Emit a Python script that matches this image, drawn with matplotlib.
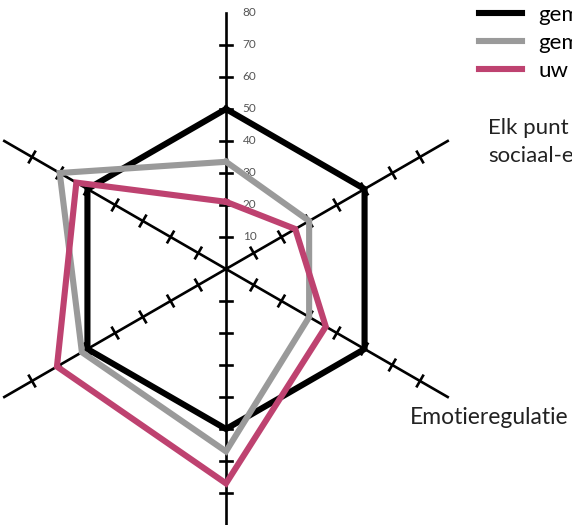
import numpy as np
import matplotlib
matplotlib.use("Agg")
import matplotlib.pyplot as plt

plt.rcParams['font.family'] = ['Lato', 'DejaVu Sans']

# Scores per axis, clockwise starting at the top
axis_angles = [90, 30, -30, -90, -150, 150]
black_vals = [50, 50, 50, 50, 50, 50]
gray_vals = [33.5, 30, 30, 57, 52, 60]
pink_vals = [21, 25, 36, 67, 61, 54]

legend_labels = ['gem', 'gem', 'uw']
tick_vals = [10, 20, 30, 40, 50, 60, 70]
tick_labels = ['10', '20', '30', '40', '50', '60', '70', '80']
R_MAX = 80

BLACK = '#000000'
GRAY = '#9a9a9a'
PINK = '#be4270'

W, H = 572, 525
CX, CY = 226, 269     # centre in pixels
PX = 3.2              # pixels per unit

fig = plt.figure(figsize=(W / 100, H / 100), dpi=100)
ax = fig.add_axes([0, 0, 1, 1])
ax.set_xlim(-CX / PX, (W - CX) / PX)
ax.set_ylim(-(H - CY) / PX, CY / PX)
ax.set_aspect('equal')
ax.axis('off')


def to_xy(vals):
    a = np.radians(axis_angles)
    v = np.array(vals, dtype=float)
    x = v * np.cos(a)
    y = v * np.sin(a)
    return np.append(x, x[0]), np.append(y, y[0])


# spokes + ticks
for ang in axis_angles:
    a = np.radians(ang)
    ax.plot([0, R_MAX * np.cos(a)], [0, R_MAX * np.sin(a)], color='black', lw=1.9, zorder=1)
    px, py = -np.sin(a), np.cos(a)
    for t in tick_vals:
        x0, y0 = t * np.cos(a), t * np.sin(a)
        ax.plot([x0 - 1.9 * px, x0 + 1.9 * px], [y0 - 1.9 * py, y0 + 1.9 * py],
                color='black', lw=1.9, zorder=1)

# scale labels on the vertical axis
for i, lab in enumerate(tick_labels):
    ax.text(5.2, (i + 1) * 10, lab, fontsize=8.5, color='#555555',
            ha='left', va='center', zorder=0)

lines = []
for vals, col in [(black_vals, BLACK), (gray_vals, GRAY), (pink_vals, PINK)]:
    x, y = to_xy(vals)
    ln, = ax.plot(x, y, color=col, lw=4.4, solid_joinstyle='miter', zorder=3)
    lines.append(ln)

ax.legend(lines, legend_labels, loc='upper left', bbox_to_anchor=(479 / W, 1 - 5 / H),
          frameon=False, fontsize=16, handlelength=1.95, handletextpad=0.72,
          labelspacing=0.35, borderpad=0, borderaxespad=0)

fig.text(488 / W, 1 - 128 / H, 'Elk punt', fontsize=16, color='#222222', ha='left', va='center')
fig.text(488 / W, 1 - 156 / H, 'sociaal-e', fontsize=16, color='#222222', ha='left', va='center')
fig.text(410 / W, 1 - 417 / H, 'Emotieregulatie', fontsize=16.5, color='#222222',
         ha='left', va='center')

fig.savefig('out.png', dpi=100)
